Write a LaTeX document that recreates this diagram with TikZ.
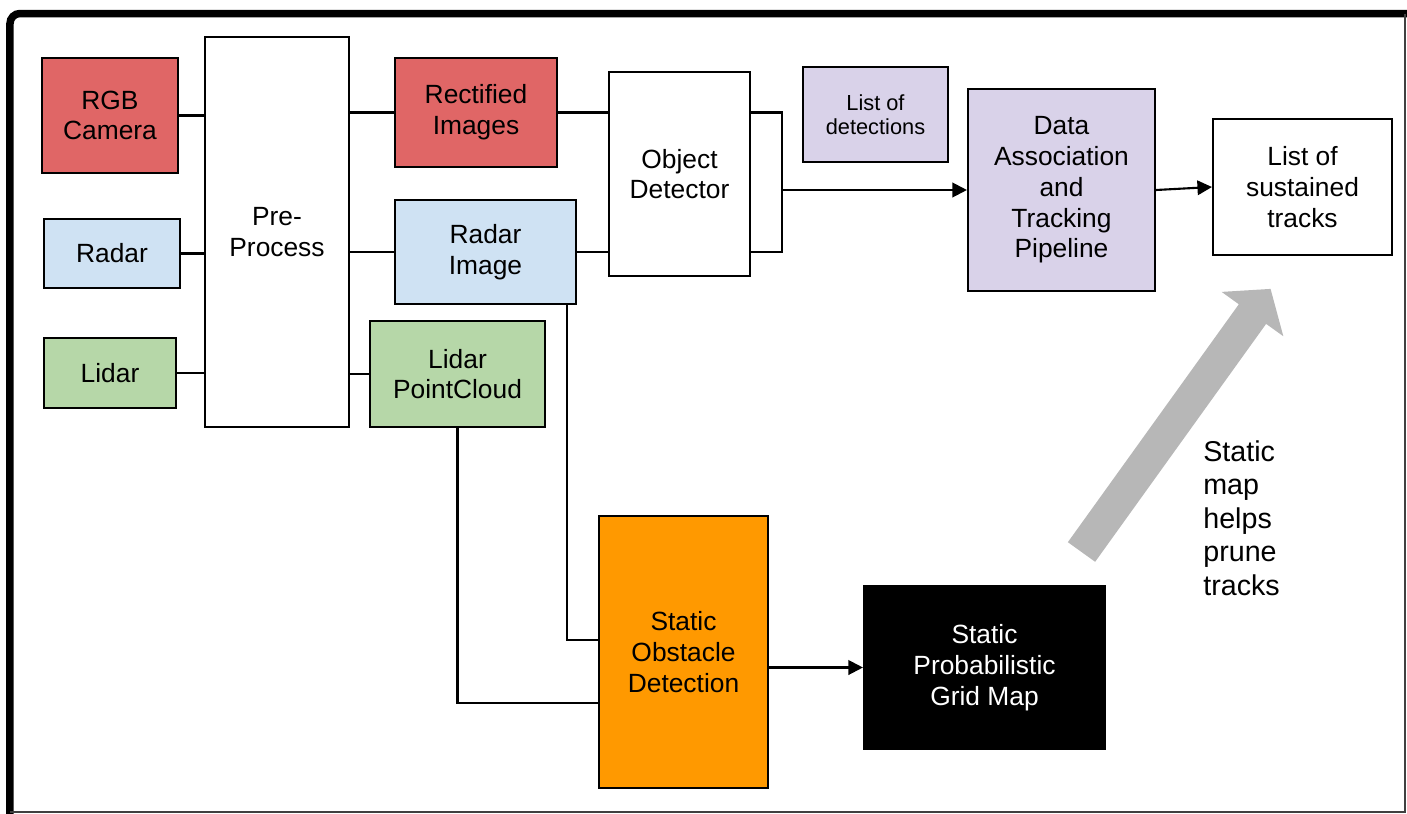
\documentclass[tikz,border=0pt]{standalone}
\usepackage{fontspec}
\setmainfont{Liberation Sans}
\usepackage{xcolor}
\usepackage{tikz}
\usetikzlibrary{arrows.meta, positioning, calc}

\definecolor{rojo}{HTML}{E06666}
\definecolor{azul}{HTML}{CFE2F3}
\definecolor{verde}{HTML}{B6D7A8}
\definecolor{lila}{HTML}{D9D2E9}
\definecolor{naranja}{HTML}{FF9900}
\definecolor{gris}{HTML}{B7B7B7}

\begin{document}
\begin{tikzpicture}[
    font=\fontsize{15}{17.5}\selectfont,
    caja/.style={draw, line width=1.2pt, align=center, inner sep=0pt},
    linea/.style={line width=1.2pt},
    flecha/.style={linea, -{Triangle[length=2.9mm, width=2.9mm]}},
    nota/.style={align=left, inner sep=0pt, font=\fontsize{16.3}{19.1}\selectfont}
  ]
  \useasboundingbox (0,0) rectangle (28.14,-16.28);

  % --- Marco ---
  \draw[line width=1.5mm, rounded corners=2mm] (0.20,-16.28) -- (0.20,-0.27)
        -- (28.14,-0.27);
  \draw[line width=0.9pt, black!75] (28.10,-0.27) -- (28.10,-16.24) -- (0.20,-16.24);

  % --- Sensores ---
  \node[caja, fill=rojo, minimum width=2.72cm, minimum height=2.30cm]
       (rgb)   at (2.20,-2.31) {RGB\\Camera};
  \node[caja, fill=azul, minimum width=2.72cm, minimum height=1.38cm]
       (radar) at (2.24,-5.07) {Radar};
  \node[caja, fill=verde, minimum width=2.64cm, minimum height=1.40cm]
       (lidar) at (2.20,-7.46) {Lidar};

  % --- Preproceso ---
  \node[caja, minimum width=2.88cm, minimum height=7.80cm]
       (pre) at (5.54,-4.64) {Pre-\\Process};

  \node[caja, fill=rojo, minimum width=3.24cm, minimum height=2.18cm]
       (rect)   at (9.52,-2.25) {Rectified\\Images};
  \node[caja, fill=azul, minimum width=3.62cm, minimum height=2.08cm]
       (radimg) at (9.71,-5.04) {Radar\\Image};
  \node[caja, fill=verde, minimum width=3.50cm, minimum height=2.12cm]
       (nube)   at (9.15,-7.48) {Lidar\\PointCloud};

  % --- Deteccion y seguimiento ---
  \node[caja, minimum width=2.82cm, minimum height=4.08cm]
       (objdet) at (13.59,-3.48) {Object\\Detector};
  \node[caja, fill=lila, minimum width=2.90cm, minimum height=1.90cm,
        font=\fontsize{12.4}{13.7}\selectfont]
       (dets)   at (17.51,-2.29) {List of\\detections};
  \node[caja, fill=lila, minimum width=3.74cm, minimum height=4.04cm]
       (asoc)   at (21.23,-3.80) {Data\\Association\\and\\Tracking\\Pipeline};
  \node[caja, minimum width=3.58cm, minimum height=2.72cm]
       (tracks) at (26.05,-3.74) {List of\\sustained\\tracks};

  % --- Mapa estatico ---
  \node[caja, fill=naranja, minimum width=3.38cm, minimum height=5.44cm]
       (sod)  at (13.67,-13.04) {Static\\Obstacle\\Detection};
  \node[caja, fill=black, text=white, minimum width=4.82cm, minimum height=3.26cm]
       (grid) at (19.69,-13.35) {Static\\Probabilistic\\Grid Map};

  % --- Flecha gris y nota ---
  \begin{scope}[shift={(21.63,-11.04)}, rotate=54.3]
    \fill[gris] (0,-0.336) -- (5.86,-0.336) -- (5.86,-0.76) -- (6.48,0)
          -- (5.86,0.76) -- (5.86,0.336) -- (0,0.336) -- cycle;
  \end{scope}
  \node[nota, anchor=west] (texto) at (24.06,-10.36)
       {Static\\map\\helps\\prune\\tracks};

  % --- Conexiones al preproceso ---
  \draw[linea] (rgb.east) -- (rgb.east -| pre.west);
  \draw[linea] (radar.east) -- (radar.east -| pre.west);
  \draw[linea] (lidar.east) -- (lidar.east -| pre.west);
  \draw[linea] (rect.west -| pre.east) -- (rect.west);
  \draw[linea] (radimg.west -| pre.east) -- (radimg.west);
  \draw[linea] (nube.west -| pre.east) -- (nube.west);

  % --- Hacia el detector y el seguimiento ---
  \draw[linea] (rect.east) -- (rect.east -| objdet.west);
  \draw[linea] (radimg.east) -- (radimg.east -| objdet.west);
  \coordinate (union) at ([xshift=6.2mm]objdet.east);
  \draw[linea] (rect.east -| objdet.east) -| (union)
        |- (radimg.east -| objdet.east);
  \draw[flecha] (union |- asoc.west) -- (asoc.west);
  \draw[flecha] (asoc.east) -- (tracks.west);

  % --- Hacia la deteccion de obstaculos ---
  \draw[linea] ([xshift=-2mm]radimg.south east) |- ([yshift=2.4mm]sod.west);
  \draw[linea] (nube.south) |- ([yshift=-10.2mm]sod.west);
  \draw[flecha] (sod.east |- grid.west) -- (grid.west);
\end{tikzpicture}
\end{document}
